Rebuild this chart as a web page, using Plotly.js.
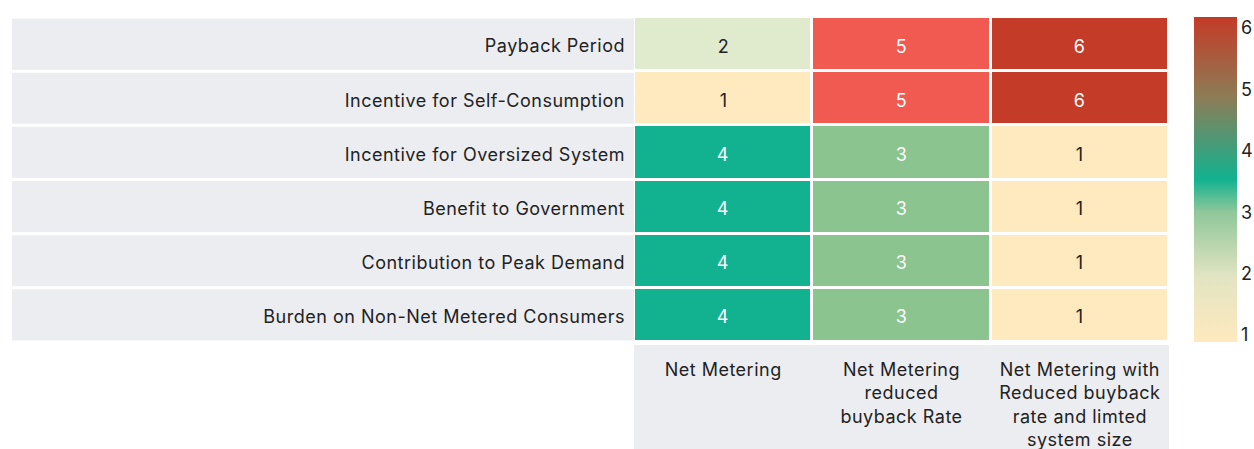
<!DOCTYPE html>
<html>
<head>
<meta charset="utf-8">
<script src="https://cdn.plot.ly/plotly-3.0.1.min.js"></script>
<style>
html,body{margin:0;padding:0;background:#fff;}
#chart{width:1254px;height:449px;}
#chart svg text{letter-spacing:0.5px;}
</style>
</head>
<body>
<div id="chart"></div>
<script>
const rowLabels = ["Payback Period", "Incentive for Self-Consumption", "Incentive for Oversized System", "Benefit to Government", "Contribution to Peak Demand", "Burden on Non-Net Metered Consumers"];
const colLabels = ["Net Metering", "Net Metering<br>reduced<br>buyback Rate", "Net Metering with<br>Reduced buyback<br>rate and limted<br>system size"];
const colNetMetering = [2, 1, 4, 4, 4, 4];
const colReducedRate = [5, 5, 3, 3, 3, 3];
const colReducedRateLimited = [6, 6, 1, 1, 1, 1];
const cellColors = ["#FFE9BF", "#E0EACC", "#8BC48F", "#12B290", "#F15A50", "#C43B27"];
const barScale = [[0, "#FFE9BF"], [0.2, "#E2E4C2"], [0.4, "#8FC79A"], [0.5, "#12B290"], [0.75, "#8C7D57"], [1, "#C43B27"]];
const barTicks = [1, 2, 3, 4, 5, 6];

const cols = [colNetMetering, colReducedRate, colReducedRateLimited];
const z = rowLabels.map((r, i) => cols.map(c => c[i]));
const font = "Inter, 'Noto Sans', sans-serif";
const gray = "#ECEDF1";
const fs = 18;

const discrete = [];
cellColors.forEach((c, k) => {
  discrete.push([k / cellColors.length, c]);
  discrete.push([(k + 1) / cellColors.length, c]);
});

const heat = {
  type: "heatmap",
  x: colLabels,
  y: rowLabels,
  z: z,
  zmin: 0.5,
  zmax: 6.5,
  colorscale: discrete,
  showscale: false,
  xgap: 3,
  ygap: 3,
  hoverinfo: "skip"
};

const cbar = {
  type: "scatter",
  x: [null],
  y: [null],
  mode: "markers",
  showlegend: false,
  hoverinfo: "skip",
  marker: {
    color: [1],
    cmin: 0.886,
    cmax: 6.18,
    colorscale: barScale,
    showscale: true,
    colorbar: {
      xref: "container", x: 1194 / 1254, xanchor: "left", xpad: 0, ypad: 0,
      yref: "paper", y: 0.5, yanchor: "middle", len: 1, lenmode: "fraction",
      thickness: 43, outlinewidth: 0,
      tickvals: barTicks, ticks: "", ticklabelpad: 4,
      tickfont: {family: font, size: fs, color: "#222"}
    }
  }
};

const annotations = [];
rowLabels.forEach((r, i) => {
  colLabels.forEach((c, j) => {
    const v = z[i][j];
    annotations.push({
      x: c, y: r, xref: "x", yref: "y", text: String(v), showarrow: false, yshift: -2,
      font: {family: font, size: fs, color: v <= 2 ? "#222" : "#ffffff"}
    });
  });
});

const plotW = 1254 - 634 - 85;
const plotH = 449 - 17 - 107;
const shapes = [];
rowLabels.forEach((r, i) => {
  shapes.push({
    type: "rect", layer: "below", xref: "paper", yref: "y",
    x0: (12 - 634) / plotW, x1: 0, y0: i - 0.5 + 0.028, y1: i + 0.5 - 0.028,
    fillcolor: gray, line: {width: 0}
  });
});
shapes.push({
  type: "rect", layer: "below", xref: "x", yref: "paper",
  x0: -0.5, x1: colLabels.length - 0.5, y0: -(449 - 342) / plotH - 0.01, y1: -3 / plotH,
  fillcolor: gray, line: {width: 0}
});

const layout = {
  width: 1254, height: 449,
  margin: {l: 634, r: 85, t: 17, b: 107, pad: 0, autoexpand: false},
  paper_bgcolor: "#ffffff",
  plot_bgcolor: "#ffffff",
  font: {family: font, size: fs, color: "#222"},
  xaxis: {type: "category", showgrid: false, zeroline: false, ticks: "", ticklabelstandoff: 15, tickfont: {family: font, size: fs, color: "#222"}, fixedrange: true, automargin: false},
  yaxis: {type: "category", autorange: "reversed", showgrid: false, zeroline: false, ticks: "", ticklabelstandoff: 8, ticklabelshift: -2, tickfont: {family: font, size: fs, color: "#222"}, fixedrange: true, automargin: false},
  shapes: shapes,
  annotations: annotations,
  showlegend: false
};

Plotly.newPlot("chart", [heat, cbar], layout, {displayModeBar: false, staticPlot: true});
</script>
</body>
</html>
